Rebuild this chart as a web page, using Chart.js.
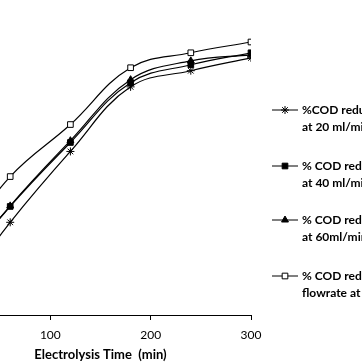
<!DOCTYPE html>
<html>
<head>
<meta charset="utf-8">
<script src="https://cdn.jsdelivr.net/npm/chart.js@4/dist/chart.umd.min.js"></script>
<style>
  html, body { margin: 0; padding: 0; background: #fff; overflow: hidden; }
  #wrap { position: absolute; left: -60px; top: 0; width: 422px; height: 362px; }
</style>
</head>
<body>
<div id="wrap"><canvas id="codChart" width="422" height="362"></canvas></div>
<script>
// Electrolysis time (min)
const times = [0, 30, 60, 120, 180, 240, 300];
const xTicks = [100, 200, 300];

// % COD reduction per flowrate
const cod20 = [0, 17, 31, 54.7, 76.3, 81.7, 86];
const cod40 = [0, 23, 36.3, 57.7, 77.7, 83.7, 87.7];
const cod60 = [0, 23, 36.5, 58.3, 78.7, 85, 87];
const codFlow = [0, 31, 46.3, 63.7, 82.7, 87.7, 91.3];

const legendLines = [
    ['%COD reduction', 'at 20 ml/min flowrate'],
    ['% COD reduction', 'at 40 ml/min flowrate'],
    ['% COD reduction', 'at 60ml/min flowrate'],
    ['% COD reduction at', 'flowrate at 80 ml/min']
];

function toPoints(values) {
    return times.map((t, i) => ({ x: t, y: values[i] }));
}

function makeSet(label, values, style, fill) {
    return {
        label: label,
        data: toPoints(values),
        borderColor: '#000',
        borderWidth: 1.2,
        backgroundColor: fill,
        pointStyle: style,
        pointRadius: 4,
        pointBorderColor: '#000',
        pointBackgroundColor: fill,
        pointBorderWidth: 1,
        tension: 0.4,
        fill: false
    };
}

// legend on the right, two text lines per entry
const sideLegend = {
    id: 'sideLegend',
    afterDraw(chart) {
        const ctx = chart.ctx;
        const rows = [110, 166, 220, 276];
        ctx.save();
        chart.data.datasets.forEach((ds, i) => {
            const y = rows[i];
            ctx.strokeStyle = '#000';
            ctx.lineWidth = 1;
            ctx.beginPath();
            ctx.moveTo(332, y);
            ctx.lineTo(358, y);
            ctx.stroke();
            ctx.fillStyle = ds.pointBackgroundColor;
            Chart.helpers.drawPoint(ctx, { pointStyle: ds.pointStyle, radius: 4, rotation: 0, borderWidth: 1 }, 345, y);
            ctx.fillStyle = '#000';
            ctx.font = 'bold 12px Lato';
            ctx.textBaseline = 'middle';
            ctx.textAlign = 'left';
            ctx.fillText(legendLines[i][0], 362, y);
            ctx.fillText(legendLines[i][1], 362, y + 17);
        });
        ctx.restore();
    }
};

new Chart(document.getElementById('codChart'), {
    type: 'line',
    data: {
        datasets: [
            makeSet('%COD reduction at 20 ml/min', cod20, 'star', '#000'),
            makeSet('% COD reduction at 40 ml/min', cod40, 'rect', '#000'),
            makeSet('% COD reduction at 60ml/min', cod60, 'triangle', '#000'),
            makeSet('% COD reduction flowrate', codFlow, 'rect', '#fff')
        ]
    },
    options: {
        responsive: false,
        devicePixelRatio: 1,
        animation: false,
        layout: { padding: { left: 10, right: 111, top: 16, bottom: 0 } },
        plugins: { legend: { display: false }, tooltip: { enabled: false } },
        scales: {
            x: {
                type: 'linear',
                min: 0,
                max: 300,
                afterBuildTicks: (scale) => { scale.ticks = xTicks.map(v => ({ value: v })); },
                afterFit: (scale) => { scale.height = 47; },
                grid: { drawOnChartArea: false, tickLength: 5, color: '#000' },
                border: { display: true, color: '#000', width: 1 },
                ticks: { color: '#000', padding: 8, font: { family: 'Lato', size: 12 } },
                title: {
                    display: true,
                    text: 'Electrolysis Time  (min)',
                    color: '#000',
                    font: { family: 'Lato', size: 13, weight: 'bold' },
                    padding: { top: 0, bottom: -1 }
                }
            },
            y: { display: false, min: 0, max: 100 }
        }
    },
    plugins: [sideLegend]
});
</script>
</body>
</html>
